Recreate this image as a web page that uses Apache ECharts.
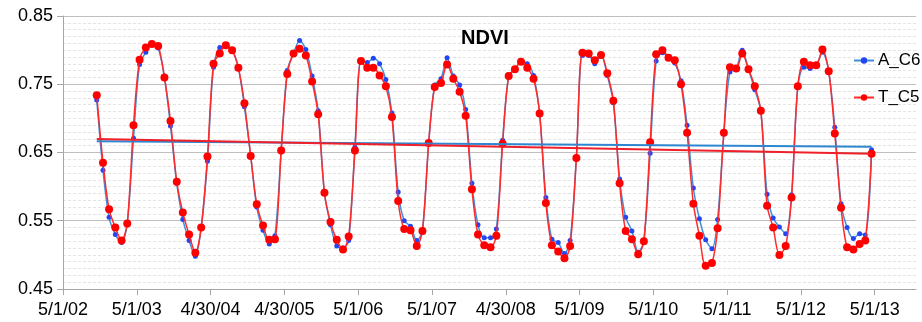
<!DOCTYPE html>
<html>
<head>
<meta charset="utf-8">
<script src="https://cdn.jsdelivr.net/npm/echarts@6/dist/echarts.min.js"></script>
<style>
  html, body { margin: 0; padding: 0; background: #ffffff; }
  #chart { width: 922px; height: 322px; }
</style>
</head>
<body>
<div id="chart"></div>
<script>
// Monthly NDVI composites, mid-month, October 2002 through April 2013
const firstYear = 2002;
const firstMonth = 10; // October
const axisOrigin = Date.UTC(2002, 4, 1); // 5/1/02

const xTickLabels = ['5/1/02', '5/1/03', '4/30/04', '4/30/05', '5/1/06', '5/1/07',
                     '4/30/08', '5/1/09', '5/1/10', '5/1/11', '5/1/12', '5/1/13'];

const aC6 = [
  0.727, 0.624, 0.555, 0.530, 0.518, 0.546, 0.671, 0.779, 0.797, 0.809, 0.803, 0.760,
  0.689, 0.605, 0.552, 0.521, 0.498, 0.540, 0.637, 0.775, 0.804, 0.805, 0.800, 0.774,
  0.717, 0.645, 0.570, 0.536, 0.516, 0.528, 0.653, 0.770, 0.795, 0.814, 0.801, 0.762,
  0.711, 0.591, 0.544, 0.513, 0.510, 0.521, 0.658, 0.784, 0.782, 0.788, 0.780, 0.757,
  0.708, 0.592, 0.550, 0.542, 0.521, 0.535, 0.664, 0.749, 0.758, 0.789, 0.762, 0.749,
  0.713, 0.605, 0.544, 0.525, 0.525, 0.538, 0.668, 0.762, 0.772, 0.783, 0.780, 0.763,
  0.707, 0.584, 0.523, 0.518, 0.502, 0.521, 0.642, 0.792, 0.792, 0.780, 0.793, 0.763,
  0.723, 0.611, 0.555, 0.535, 0.504, 0.520, 0.649, 0.784, 0.796, 0.789, 0.781, 0.755,
  0.690, 0.598, 0.553, 0.522, 0.509, 0.552, 0.679, 0.768, 0.773, 0.800, 0.772, 0.742,
  0.711, 0.589, 0.554, 0.541, 0.531, 0.588, 0.747, 0.775, 0.773, 0.778, 0.797, 0.769,
  0.687, 0.575, 0.540, 0.524, 0.531, 0.529, 0.654
];

const tC5 = [
  0.734, 0.635, 0.567, 0.540, 0.521, 0.546, 0.690, 0.786, 0.804, 0.809, 0.806, 0.760,
  0.696, 0.607, 0.562, 0.530, 0.503, 0.540, 0.644, 0.780, 0.795, 0.807, 0.800, 0.774,
  0.722, 0.645, 0.574, 0.543, 0.522, 0.523, 0.653, 0.765, 0.795, 0.802, 0.792, 0.754,
  0.706, 0.591, 0.548, 0.522, 0.508, 0.527, 0.653, 0.784, 0.774, 0.774, 0.763, 0.747,
  0.702, 0.579, 0.538, 0.536, 0.513, 0.535, 0.664, 0.746, 0.752, 0.779, 0.758, 0.739,
  0.704, 0.596, 0.530, 0.514, 0.511, 0.528, 0.663, 0.762, 0.772, 0.783, 0.774, 0.758,
  0.707, 0.576, 0.514, 0.505, 0.495, 0.513, 0.642, 0.796, 0.795, 0.785, 0.793, 0.766,
  0.726, 0.605, 0.535, 0.523, 0.501, 0.520, 0.665, 0.794, 0.800, 0.789, 0.785, 0.750,
  0.679, 0.575, 0.528, 0.484, 0.488, 0.539, 0.679, 0.775, 0.773, 0.795, 0.772, 0.747,
  0.711, 0.572, 0.540, 0.500, 0.513, 0.584, 0.747, 0.783, 0.778, 0.778, 0.801, 0.769,
  0.678, 0.569, 0.511, 0.508, 0.516, 0.521, 0.648
];

const DAY = 86400000;
const YEAR_DAYS = 365.25;

// x position of each monthly value: days after 5/1/02 (15th of the month)
const monthDays = aC6.map((_, i) => {
  const m = firstMonth - 1 + i;
  return (Date.UTC(firstYear + Math.floor(m / 12), m % 12, 15) - axisOrigin) / DAY;
});

function pairs(values) {
  return values.map((v, i) => [monthDays[i], v]);
}

// Least-squares linear trend, drawn across the span of the data
function trend(values) {
  const n = values.length;
  let sx = 0, sy = 0, sxx = 0, sxy = 0;
  for (let i = 0; i < n; i++) {
    const x = monthDays[i], y = values[i];
    sx += x; sy += y; sxx += x * x; sxy += x * y;
  }
  const slope = (n * sxy - sx * sy) / (n * sxx - sx * sx);
  const icpt = (sy - slope * sx) / n;
  const x0 = monthDays[0], x1 = monthDays[n - 1];
  return [[x0, icpt + slope * x0], [x1, icpt + slope * x1]];
}

const tickDays = xTickLabels.map((_, i) => i * YEAR_DAYS);
const FONT = 'Liberation Sans, Arial, sans-serif';

const chart = echarts.init(document.getElementById('chart'), null, { renderer: 'canvas' });

chart.setOption({
  animation: false,
  backgroundColor: '#ffffff',
  title: {
    text: 'NDVI',
    left: 480,
    top: 23,
    textAlign: 'center',
    textStyle: { fontFamily: FONT, fontSize: 20, fontWeight: 'bold', color: '#000000' }
  },
  legend: {
    data: ['A_C6', 'T_C5'],
    orient: 'vertical',
    left: 848,
    top: 47,
    itemWidth: 20,
    itemHeight: 8,
    itemGap: 20,
    textStyle: { fontFamily: FONT, fontSize: 17, color: '#000000', padding: [0, 0, 0, -1] }
  },
  grid: { left: 63, right: 6, top: 16, bottom: 33, containLabel: false },
  xAxis: {
    type: 'value',
    min: 0,
    max: 4222,
    interval: YEAR_DAYS,
    axisLine: { lineStyle: { color: '#a6a6a6', width: 1 } },
    axisTick: { show: true, length: 6, lineStyle: { color: '#a6a6a6' }, customValues: tickDays },
    axisLabel: {
      customValues: tickDays,
      margin: 12,
      fontFamily: FONT,
      fontSize: 18,
      color: '#000000',
      formatter: v => xTickLabels[Math.round(v / YEAR_DAYS)] || ''
    },
    splitLine: { show: false }
  },
  yAxis: {
    type: 'value',
    min: 0.45,
    max: 0.85,
    interval: 0.1,
    axisLine: { show: true, lineStyle: { color: '#a6a6a6', width: 1 } },
    axisTick: { show: true, length: 6, lineStyle: { color: '#a6a6a6' } },
    axisLabel: {
      margin: 10,
      fontFamily: FONT,
      fontSize: 18,
      color: '#000000',
      formatter: v => v.toFixed(2)
    },
    splitLine: { show: true, lineStyle: { color: '#bfbfbf', width: 1 } },
    minorTick: { show: false, splitNumber: 10 },
    minorSplitLine: { show: true, lineStyle: { color: '#e4e4e4', width: 1, type: [3, 2] } }
  },
  series: [
    {
      name: 'A_C6',
      type: 'line',
      data: pairs(aC6),
      smooth: 0.3,
      symbol: 'circle',
      symbolSize: 5,
      showAllSymbol: true,
      lineStyle: { color: '#3f8fdc', width: 1.5 },
      itemStyle: { color: '#2346f5', borderWidth: 0 },
      z: 3
    },
    {
      name: 'T_C5',
      type: 'line',
      data: pairs(tC5),
      smooth: 0.3,
      symbol: 'circle',
      symbolSize: 8,
      showAllSymbol: true,
      lineStyle: { color: '#ff2a2a', width: 1.5 },
      itemStyle: { color: '#ff0000', borderWidth: 0 },
      z: 4
    },
    {
      name: 'A_C6 trend',
      type: 'line',
      data: trend(aC6),
      symbol: 'none',
      silent: true,
      lineStyle: { color: '#2e86d0', width: 2 },
      z: 5
    },
    {
      name: 'T_C5 trend',
      type: 'line',
      data: trend(tC5),
      symbol: 'none',
      silent: true,
      lineStyle: { color: '#f0202a', width: 2 },
      z: 6
    }
  ]
});
</script>
</body>
</html>
